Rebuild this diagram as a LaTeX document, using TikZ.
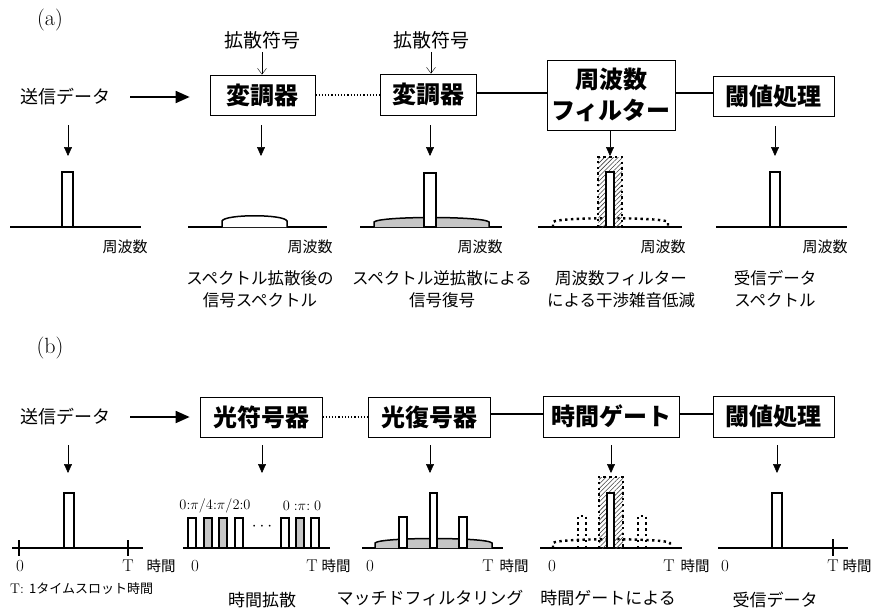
\documentclass[tikz,border=0pt]{standalone}
\usepackage{fontspec}
\newfontfamily\jp{Noto Sans CJK JP}
\usetikzlibrary{arrows.meta,patterns.meta,calc}
\newcommand\fs[1]{\fontsize{#1}{#1}\selectfont}
\begin{document}
\begin{tikzpicture}[x=1pt,y=-1pt,
  blk/.style={draw, line width=0.7pt, inner sep=0pt, align=center, font=\jp\bfseries\fs{24}},
  lbl/.style={inner sep=0pt, font=\jp\fs{18}},
  code/.style={inner sep=0pt, font=\jp\fs{19}},
  ax/.style={inner sep=0pt, font=\jp\fs{15}},
  capt/.style={inner sep=0pt, align=center, font=\jp\fs{16.5}, execute at begin node=\setlength{\baselineskip}{22pt}},
  tl/.style={inner sep=0pt, font=\fs{17}},
  tj/.style={inner sep=0pt, font=\jp\fs{14.5}},
  bcap/.style={inner sep=0pt, font=\jp\fs{17}},
  big/.style={line width=1.8pt, -{Triangle[length=14pt,width=12pt]}},
  darr/.style={line width=0.5pt, -{Triangle[length=9pt,width=8pt]}},
  sarr/.style={line width=0.4pt, -{Straight Barb[length=6pt,width=9pt,line width=0.4pt]}},
  link/.style={line width=1.5pt},
  dline/.style={line width=1.2pt, dash pattern=on 1.2pt off 2pt},
  base/.style={line width=1.8pt},
  pulse/.style={draw, line width=1.5pt, fill=white},
  gpulse/.style={draw, line width=1.5pt, fill=gray!45},
  dome/.style={draw, line width=1.5pt, fill=gray!45},
  wdome/.style={draw, line width=1.5pt, fill=white},
  dots/.style={line width=2.4pt, dash pattern=on 2.4pt off 3.4pt},
  hatch/.style={pattern={Lines[angle=45,distance=3.2pt,line width=0.6pt]}, pattern color=black!75},
]
\useasboundingbox (0,0) rectangle (872,608);

%================ (a) =================
\node[tl, font=\fs{22}] (la) at (50,20) {(a)};
\node[lbl] (sdA) at (65,97) {送信データ};
\node[blk, minimum width=105pt, minimum height=40pt] (m1) at (262.5,95) {変調器};
\node[blk, minimum width=96pt, minimum height=41pt] (m2) at (428,94.5) {変調器};
\node[blk, minimum width=128pt, minimum height=70pt, execute at begin node=\setlength{\baselineskip}{31pt}] (filt) at (611,95) {周波数\\フィルター};
\node[blk, minimum width=121pt, minimum height=40pt] (thrA) at (773.5,96) {閾値処理};
\node[code] (c1) at (262,40) {拡散符号};
\node[code] (c2) at (431,40) {拡散符号};

\draw[big, shorten <=20pt, shorten >=20pt] (sdA.east) -- (sdA.east -| m1.west);
\draw[dline] (m1.east) -- (m1.east -| m2.west);
\draw[link] (m2.east |- 0,93) -- (filt.west |- 0,93);
\draw[link] (filt.east |- 0,93) -- (thrA.west |- 0,93);
\draw[sarr, shorten <=3pt] (c1.south) -- (c1.south |- m1.north);
\draw[sarr, shorten <=3pt] (c2.south) -- (c2.south |- m2.north);

\coordinate (ga1) at (68,156);
\coordinate (ga2) at (261,156);
\coordinate (ga3) at (430,156);
\coordinate (ga4) at (610,156);
\coordinate (ga5) at (775,156);
\draw[darr] (68,125) -- (ga1);
\draw[darr] (261,125) -- (ga2);
\draw[darr] (430,125) -- (ga3);
\draw[darr] (610,130) -- (ga4);
\draw[darr] (775,126) -- (ga5);

% graph a1
\draw[base] (10,227) -- (141,227);
\draw[pulse] (62,172) rectangle (73,227);
\node[ax] (fa1) at (125,247) {周波数};
% graph a2
\draw[base] (188,227) -- (327,227);
\draw[wdome] (222,227) -- (222,221) .. controls (225,214) and (284,214) .. (287,221) -- (287,227);
\node[ax] (fa2) at (310,247) {周波数};
% graph a3
\draw[base] (360,227) -- (502,227);
\draw[dome] (374,227) -- (374,222) .. controls (380,216) and (483,216) .. (489,222) -- (489,227);
\draw[pulse] (424,173) rectangle (436,227);
\node[ax] (fa3) at (480,247) {周波数};
% graph a4
\draw[base] (538,227) -- (682,227);
\draw[dots] (553,227) -- (553,222) .. controls (557,217) and (664,217) .. (668,222) -- (668,227);
\fill[hatch] (598,157) rectangle (622,227);
\draw[dots] (598,227) -- (598,157) -- (622,157) -- (622,227);
\draw[pulse] (606,172) rectangle (614,227);
\node[ax] (fa4) at (663,247) {周波数};
% graph a5
\draw[base] (716,227) -- (847,227);
\draw[pulse] (770,172) rectangle (780,227);
\node[ax] (fa5) at (825,247) {周波数};

\node[capt] (ca2) at (260,289) {スペクトル拡散後の\\信号スペクトル};
\node[capt] (ca3) at (442,289) {スペクトル逆拡散による\\信号復号};
\node[capt] (ca4) at (621,289) {周波数フィルター\\による干渉雑音低減};
\node[capt] (ca5) at (775,289) {受信データ\\スペクトル};

%================ (b) =================
\node[tl, font=\fs{22}] (lb) at (50,348) {(b)};
\node[lbl] (sdB) at (65,417) {送信データ};
\node[blk, minimum width=122pt, minimum height=40pt] (enc) at (261,417) {光符号器};
\node[blk, minimum width=122pt, minimum height=40pt] (dec) at (429,417) {光復号器};
\node[blk, minimum width=136pt, minimum height=41pt] (gate) at (611,416.5) {時間ゲート};
\node[blk, minimum width=121pt, minimum height=41pt] (thrB) at (773.5,416.5) {閾値処理};

\draw[big, shorten <=20pt, shorten >=10pt] (sdB.east) -- (sdB.east -| enc.west);
\draw[dline] (enc.east) -- (enc.east -| dec.west);
\draw[link] (dec.east |- 0,414) -- (gate.west |- 0,414);
\draw[link] (gate.east |- 0,414) -- (thrB.west |- 0,414);

\coordinate (gb1) at (68,473);
\coordinate (gb2) at (262,473);
\coordinate (gb3) at (430,473);
\coordinate (gb4) at (611,473);
\coordinate (gb5) at (777,473);
\draw[darr] (68,445) -- (gb1);
\draw[darr] (262,445) -- (gb2);
\draw[darr] (430,445) -- (gb3);
\draw[darr] (611,445) -- (gb4);
\draw[darr] (777,445) -- (gb5);

% graph b1
\draw[base] (12,548) -- (143,548);
\draw[line width=1.5pt] (19,540) -- (19,556);
\draw[line width=1.5pt] (128,540) -- (128,556);
\draw[pulse] (64,493) rectangle (74,548);
\node[tl] (z1) at (20,566) {0};
\node[tl] (t1) at (128,566) {T};
\node[tj] (h1) at (161,566) {時間};
% graph b2
\draw[base] (183,548) -- (330,548);
\draw[pulse] (188,518) rectangle (196,548);
\draw[gpulse] (204,518) rectangle (212,548);
\draw[gpulse] (219,518) rectangle (227,548);
\draw[pulse] (235,518) rectangle (243,548);
\draw[pulse] (281,518) rectangle (289,548);
\draw[gpulse] (296,518) rectangle (304,548);
\draw[pulse] (311,518) rectangle (319,548);
\node[tl] (el) at (262,527) {$\cdots$};
\node[tl, font=\fs{14.5}] (ph1) at (215,506) {$0{:}\pi/4{:}\pi/2{:}0$};
\node[tl, font=\fs{14.5}] (ph2) at (302,506) {$0\;{:}\pi{:}\;0$};
\node[tl] (z2) at (195,566) {0};
\node[tl] (t2) at (312,566) {T};
\node[tj] (h2) at (336,566) {時間};
% graph b3
\draw[base] (362,548) -- (503,548);
\draw[dome] (375,548) -- (375,543) .. controls (380,537) and (487,537) .. (492,543) -- (492,548);
\draw[pulse] (399,517) rectangle (407,548);
\draw[pulse] (430,493) rectangle (437,548);
\draw[pulse] (459,517) rectangle (467,548);
\node[tl] (z3) at (370,566) {0};
\node[tl] (t3) at (488,566) {T};
\node[tj] (h3) at (514,566) {時間};
% graph b4
\draw[base] (540,548) -- (682,548);
\draw[dots] (553,548) -- (553,543) .. controls (557,538) and (666,538) .. (670,543) -- (670,548);
\draw[dots] (578,548) -- (578,516) -- (586,516) -- (586,548);
\draw[dots] (638,548) -- (638,516) -- (646,516) -- (646,548);
\fill[hatch] (599,477) rectangle (623,548);
\draw[dots] (599,548) -- (599,477) -- (623,477) -- (623,548);
\draw[pulse] (607,493) rectangle (614,548);
\node[tl] (z4) at (552,566) {0};
\node[tl] (t4) at (669,566) {T};
\node[tj] (h4) at (695,566) {時間};
% graph b5
\draw[base] (718,548) -- (848,548);
\draw[line width=1.5pt] (833,539) -- (833,556);
\draw[pulse] (772,493) rectangle (782,548);
\node[tl] (z5) at (725,566) {0};
\node[tl] (t5) at (833,566) {T};
\node[tj] (h5) at (857,566) {時間};

\node[inner sep=0pt, anchor=west] (cb1) at (10,589) {\fs{14}T:\,\jp\fs{13} 1タイムスロット時間};
\node[bcap] (cb2) at (262,600) {時間拡散};
\node[bcap] (cb3) at (430,598) {マッチドフィルタリング};
\node[bcap] (cb4) at (608,598) {時間ゲートによる};
\node[bcap] (cb5) at (775,600) {受信データ};
\end{tikzpicture}
\end{document}
